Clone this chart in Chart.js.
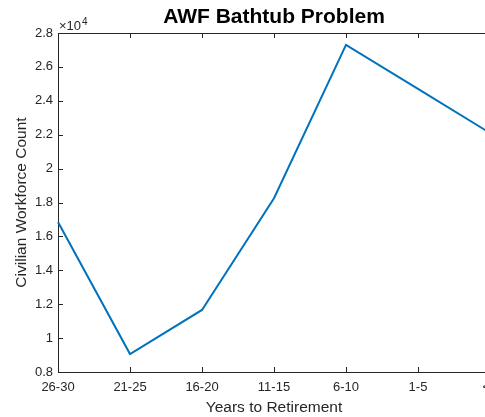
<!DOCTYPE html>
<html lang="en">
<head>
    <meta charset="UTF-8">
    <title>AWF Bathtub Problem</title>
    <script src="https://cdnjs.cloudflare.com/ajax/libs/Chart.js/4.4.1/chart.umd.min.js"></script>
    <style>
        body {
            margin: 0;
            padding: 0;
            background: #fff;
            overflow: hidden;
        }
        #wrap {
            width: 485px;
            height: 417px;
            overflow: hidden;
        }
        canvas {
            display: block;
        }
    </style>
</head>
<body>

<div id="wrap">
    <canvas id="bathtubChart" width="520" height="417"></canvas>
</div>

<script>
    // Data
    const yearsToRetirement = ['26-30', '21-25', '16-20', '11-15', '6-10', '1-5', '<1'];
    const workforceCount = [16850, 9060, 11660, 18250, 27300, 24700, 22100];
    const yMin = 8000;
    const yMax = 28000;
    const yStep = 2000;

    const axisColor = '#262626';
    const fontFamily = '"Liberation Sans", Arial, Helvetica, sans-serif';

    // MATLAB-style box, inward ticks, title and exponent label
    const matlabFrame = {
        id: 'matlabFrame',
        afterDraw(chart) {
            const ctx = chart.ctx;
            const { left, right, top, bottom } = chart.chartArea;
            const x = chart.scales.x;
            const y = chart.scales.y;

            ctx.save();
            ctx.strokeStyle = axisColor;
            ctx.lineWidth = 1;
            ctx.beginPath();
            ctx.moveTo(left, top + 0.5);
            ctx.lineTo(right, top + 0.5);
            ctx.moveTo(right - 0.5, top);
            ctx.lineTo(right - 0.5, bottom);

            x.ticks.forEach((t, i) => {
                const px = Math.round(x.getPixelForTick(i)) + 0.5;
                ctx.moveTo(px, bottom);
                ctx.lineTo(px, bottom - 5);
                ctx.moveTo(px, top);
                ctx.lineTo(px, top + 5);
            });
            y.ticks.forEach((t, i) => {
                const py = Math.round(y.getPixelForTick(i)) + 0.5;
                ctx.moveTo(left, py);
                ctx.lineTo(left + 5, py);
                ctx.moveTo(right, py);
                ctx.lineTo(right - 5, py);
            });
            ctx.stroke();

            // title
            ctx.fillStyle = '#000';
            ctx.font = 'bold 21px ' + fontFamily;
            ctx.textAlign = 'center';
            ctx.textBaseline = 'middle';
            ctx.fillText('AWF Bathtub Problem', (left + right) / 2, 17);

            // x10^4 exponent
            ctx.fillStyle = axisColor;
            ctx.textAlign = 'left';
            ctx.textBaseline = 'alphabetic';
            ctx.font = '13px ' + fontFamily;
            ctx.fillText('\u00d710', left + 1, 30);
            const w = ctx.measureText('\u00d710').width;
            ctx.font = '10px ' + fontFamily;
            ctx.fillText('4', left + w + 2, 25);
            ctx.restore();
        }
    };

    const ctx = document.getElementById('bathtubChart').getContext('2d');
    const bathtubChart = new Chart(ctx, {
        type: 'line',
        data: {
            labels: yearsToRetirement,
            datasets: [{
                label: 'Civilian Workforce Count',
                data: workforceCount,
                borderColor: '#0072BD',
                borderWidth: 2,
                pointRadius: 0,
                tension: 0,
                fill: false
            }]
        },
        options: {
            responsive: false,
            animation: false,
            layout: {
                padding: { top: 33, right: 30, bottom: 0, left: 0 }
            },
            plugins: {
                legend: { display: false },
                title: { display: false },
                tooltip: { enabled: false }
            },
            scales: {
                x: {
                    offset: false,
                    grid: { display: false, drawTicks: false },
                    border: { display: true, color: axisColor, width: 1 },
                    ticks: {
                        color: axisColor,
                        padding: 8,
                        maxRotation: 0,
                        autoSkip: false,
                        font: { family: fontFamily, size: 13 }
                    },
                    title: {
                        display: true,
                        text: 'Years to Retirement',
                        color: axisColor,
                        font: { family: fontFamily, size: 15.5 },
                        padding: { top: 0, bottom: 0 }
                    },
                    afterFit(scale) {
                        scale.height = 45;
                    }
                },
                y: {
                    min: yMin,
                    max: yMax,
                    grid: { display: false, drawTicks: false },
                    border: { display: true, color: axisColor, width: 1 },
                    ticks: {
                        stepSize: yStep,
                        color: axisColor,
                        padding: 5,
                        font: { family: fontFamily, size: 13 },
                        callback: (v) => String(Number((v / 10000).toFixed(1)))
                    },
                    title: {
                        display: true,
                        text: 'Civilian Workforce Count',
                        color: axisColor,
                        font: { family: fontFamily, size: 15.5 },
                        padding: { top: 12, bottom: 0 }
                    },
                    afterFit(scale) {
                        scale.width = 58;
                    }
                }
            }
        },
        plugins: [matlabFrame]
    });
</script>

</body>
</html>
